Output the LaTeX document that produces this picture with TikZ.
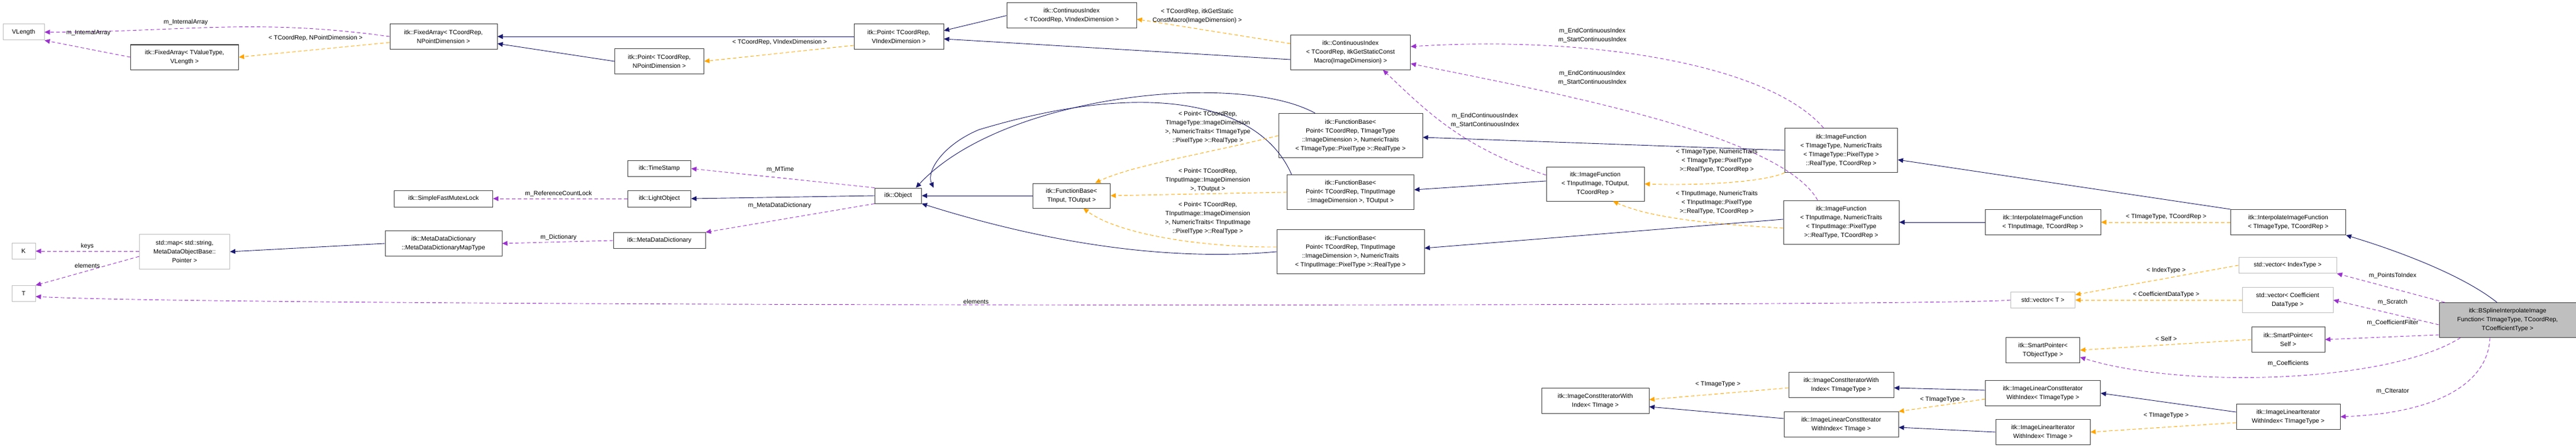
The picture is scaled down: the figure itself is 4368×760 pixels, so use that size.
\documentclass[tikz,border=0pt]{standalone}
\usepackage{fontspec}
\setmainfont{Liberation Sans}
\usetikzlibrary{arrows.meta}
\definecolor{inh}{HTML}{191970}
\definecolor{use}{HTML}{9A32CD}
\definecolor{tpl}{HTML}{FFA500}
\begin{document}
\begin{tikzpicture}[x=1pt,y=1pt,
  box/.style={draw=black!75,line width=1pt,fill=white,align=center,inner sep=2pt,font=\fontsize{10.5}{15}\selectfont},
  ext/.style={box,draw=black!25},
  lbl/.style={align=center,inner sep=1pt,font=\fontsize{10.5}{15}\selectfont},
  tip/.style={-{Triangle[length=9pt,width=8pt]}},
  ih/.style={tip,draw=inh,line width=0.9pt},
  us/.style={tip,draw=use,dashed,dash pattern=on 6pt off 4pt,line width=0.9pt},
  tp/.style={tip,draw=tpl,dashed,dash pattern=on 6pt off 4pt,line width=0.9pt}]
\useasboundingbox (0,0) rectangle (4368,-760);
\newcommand\bx[7][box]{\node[#1,minimum width=#5,minimum height=#6] (#2) at (#3,-#4) {#7};}
% nodes
\bx[ext]{vl}{40}{54.5}{70}{27}{VLength}
\bx{fatv}{313}{97}{183}{42}{itk::FixedArray< TValueType,\\ VLength >}
\bx{facn}{752}{62}{182}{43}{itk::FixedArray< TCoordRep,\\ NPointDimension >}
\bx{ptn}{1118}{104}{151}{43}{itk::Point< TCoordRep,\\ NPointDimension >}
\bx{ptv}{1524}{62}{152}{43}{itk::Point< TCoordRep,\\ VIndexDimension >}
\bx{civ}{1817}{26.5}{220}{43}{itk::ContinuousIndex\\ < TCoordRep, VIndexDimension >}
\bx{cii}{2290}{89}{203}{58}{itk::ContinuousIndex\\ < TCoordRep, itkGetStaticConst\\ Macro(ImageDimension) >}
\bx{ts}{1118}{286}{107}{27}{itk::TimeStamp}
\bx{lo}{1118}{337}{107}{28}{itk::LightObject}
\bx{mx}{752}{337}{167}{28}{itk::SimpleFastMutexLock}
\bx{obj}{1523}{332}{79}{26}{itk::Object}
\bx[ext]{k}{40}{426}{40}{27}{K}
\bx[ext]{t}{40}{498}{40}{27}{T}
\bx[ext]{map}{313}{427}{153}{59}{std::map< std::string,\\ MetaDataObjectBase::\\ Pointer >}
\bx{mt}{752}{413}{198}{43}{itk::MetaDataDictionary\\ ::MetaDataDictionaryMapType}
\bx{md}{1118}{408}{156}{27}{itk::MetaDataDictionary}
\bx{fbtt}{1817}{332}{131}{42}{itk::FunctionBase<\\ TInput, TOutput >}
\bx{fb1}{2290}{230}{244}{75}{itk::FunctionBase<\\ Point< TCoordRep, TImageType\\ ::ImageDimension >, NumericTraits\\ < TImageType::PixelType >::RealType >}
\bx{fb2}{2290}{326}{215}{59}{itk::FunctionBase<\\ Point< TCoordRep, TInputImage\\ ::ImageDimension >, TOutput >}
\bx{fb3}{2290}{427}{250}{75}{itk::FunctionBase<\\ Point< TCoordRep, TInputImage\\ ::ImageDimension >, NumericTraits\\ < TInputImage::PixelType >::RealType >}
\bx{ifto}{2705}{312}{166}{58}{itk::ImageFunction\\ < TInputImage, TOutput,\\ TCoordRep >}
\bx{ifti}{3122}{255}{191}{75}{itk::ImageFunction\\ < TImageType, NumericTraits\\ < TImageType::PixelType >\\ ::RealType, TCoordRep >}
\bx{ifin}{3122}{377}{196}{74}{itk::ImageFunction\\ < TInputImage, NumericTraits\\ < TInputImage::PixelType\\ >::RealType, TCoordRep >}
\bx{ipin}{3464}{377}{196}{43}{itk::InterpolateImageFunction\\ < TInputImage, TCoordRep >}
\bx{ipti}{3880}{377}{195}{43}{itk::InterpolateImageFunction\\ < TImageType, TCoordRep >}
\bx[ext]{vi}{3879}{450}{166}{27}{std::vector< IndexType >}
\bx[ext]{vc}{3879}{509}{154}{43}{std::vector< Coefficient\\ DataType >}
\bx[ext]{vt}{3464}{509}{109}{27}{std::vector< T >}
\bx{sps}{3880}{576}{124}{43}{itk::SmartPointer<\\ Self >}
\bx{spo}{3464}{594}{125}{43}{itk::SmartPointer<\\ TObjectType >}
\bx[box,fill=black!25]{bs}{4252}{543}{232}{59}{itk::BSplineInterpolateImage\\ Function< TImageType, TCoordRep,\\ TCoefficientType >}
\bx{lcti}{3464}{667}{195}{43}{itk::ImageLinearConstIterator\\ WithIndex< TImageType >}
\bx{lti}{3880}{707}{176}{43}{itk::ImageLinearIterator\\ WithIndex< TImageType >}
\bx{lt}{3464}{733}{160}{43}{itk::ImageLinearIterator\\ WithIndex< TImage >}
\bx{ci}{2705}{680}{182}{43}{itk::ImageConstIteratorWith\\ Index< TImage >}
\bx{cti}{3122}{653}{178}{43}{itk::ImageConstIteratorWith\\ Index< TImageType >}
\bx{lc}{3122}{720}{194}{43}{itk::ImageLinearConstIterator\\ WithIndex< TImage >}
% edges
\draw[us] (facn.west) to[out=172,in=0] (vl.east);
\node[lbl] (l1) at (315,-38) {m\_InternalArray};
\draw[us] (fatv.west) -- (vl.south east);
\node[lbl] (l2) at (150,-56) {m\_InternalArray};
\draw[tp] ([yshift=-10]facn.west) -- (fatv.east);
\node[lbl] (l3) at (535,-65) {< TCoordRep, NPointDimension >};
\draw[ih] (ptn.west) -- ([yshift=-12]facn.east);
\draw[ih] (ptv.west) -- (facn.east);
\draw[tp] ([yshift=-15]ptv.west) -- (ptn.east);
\node[lbl] (l4) at (1322,-72) {< TCoordRep, VIndexDimension >};
\draw[ih] (civ.west) -- ([yshift=10]ptv.east);
\draw[ih] ([yshift=-12]cii.west) -- ([yshift=-4]ptv.east);
\draw[tp] ([yshift=15]cii.west) -- ([yshift=-6]civ.east);
\node[lbl] (l5) at (2030,-27) {< TCoordRep, itkGetStatic\\ConstMacro(ImageDimension) >};
\draw[us] ([xshift=-30]ifti.north) .. controls (3000,-110) and (2700,-60) .. ([yshift=10]cii.east);
\node[lbl] (l6) at (2700,-60) {m\_EndContinuousIndex\\m\_StartContinuousIndex};
\draw[us] ([xshift=-40]ifin.north) .. controls (3020,-230) and (2650,-160) .. ([yshift=-19]cii.east);
\node[lbl] (l7) at (2700,-132) {m\_EndContinuousIndex\\m\_StartContinuousIndex};
\draw[us] ([yshift=15]ifto.west) .. controls (2480,-250) and (2420,-190) .. ([xshift=55]cii.south);
\node[lbl] (l8) at (2518,-204) {m\_EndContinuousIndex\\m\_StartContinuousIndex};
\draw[ih] ([xshift=-60]fb1.north) .. controls (2100,-120) and (1700,-160) .. ([xshift=30]obj.north);
\draw[ih] ([xshift=-100]fb2.north) .. controls (2140,-180) and (1960,-130) .. (1660,-220) .. controls (1600,-245) and (1570,-290) .. ([xshift=20]obj.north east);
\draw[ih] (fbtt.west) -- (obj.east);
\draw[ih] (fb3.west) .. controls (2000,-442) and (1800,-420) .. (obj.south east);
\draw[tp] (fb1.west) .. controls (2050,-260) and (1920,-280) .. ([xshift=40]fbtt.north);
\node[lbl] (l9) at (2048,-216) {< Point< TCoordRep,\\TImageType::ImageDimension\\>, NumericTraits< TImageType\\::PixelType >::RealType >};
\draw[tp] (fb2.west) -- (fbtt.east);
\node[lbl] (l10) at (2048,-306) {< Point< TCoordRep,\\TInputImage::ImageDimension\\>, TOutput >};
\draw[tp] ([yshift=8]fb3.west) .. controls (2050,-420) and (1900,-400) .. ([xshift=20]fbtt.south);
\node[lbl] (l11) at (2048,-370) {< Point< TCoordRep,\\TInputImage::ImageDimension\\>, NumericTraits< TInputImage\\::PixelType >::RealType >};
\draw[us] (obj.north west) -- (ts.east);
\node[lbl] (l12) at (1323,-288) {m\_MTime};
\draw[ih] (obj.west) -- (lo.east);
\draw[us] (lo.west) -- (mx.east);
\node[lbl] (l13) at (947,-329) {m\_ReferenceCountLock};
\draw[us] (obj.south west) -- (md.north east);
\node[lbl] (l14) at (1322,-349) {m\_MetaDataDictionary};
\draw[us] (md.west) -- (mt.east);
\node[lbl] (l15) at (947,-403) {m\_Dictionary};
\draw[ih] (mt.west) -- (map.east);
\draw[us] (map.west|-k) -- (k.east);
\node[lbl] (l16) at (148,-418) {keys};
\draw[us] ([yshift=-8]map.west) -- (t.north east);
\node[lbl] (l17) at (148,-451) {elements};
\draw[us] (vt.west) .. controls (3300,-521) and (400,-521) .. ([yshift=-5]t.east);
\node[lbl] (l18) at (1655,-512) {elements};
\draw[ih] (ifti.west) -- ([yshift=-3]fb1.east);
\draw[tp] (ifti.south west) .. controls (2990,-310) and (2870,-315) .. (ifto.east);
\node[lbl] (l19) at (2911,-273) {< TImageType, NumericTraits\\< TImageType::PixelType\\>::RealType, TCoordRep >};
\draw[ih] ([yshift=5]ifin.west) -- ([yshift=6]fb3.east);
\draw[tp] ([yshift=-10]ifin.west) .. controls (2900,-380) and (2800,-370) .. ([xshift=30]ifto.south);
\node[lbl] (l20) at (2911,-344) {< TInputImage, NumericTraits\\< TInputImage::PixelType\\>::RealType, TCoordRep >};
\draw[ih] ([yshift=5]ifto.west) -- ([yshift=4]fb2.east);
\draw[ih] (ipin.west) -- (ifin.east);
\draw[ih] (ipti.north west) -- ([yshift=-16]ifti.east);
\draw[tp] (ipti.west) -- (ipin.east);
\node[lbl] (l21) at (3673,-368) {< TImageType, TCoordRep >};
\draw[ih] ([xshift=-18]bs.north) .. controls (4180,-470) and (4080,-430) .. (ipti.south east);
\draw[tp] (vi.west) -- ([yshift=-5]vt.north east);
\node[lbl] (l22) at (3673,-459) {< IndexType >};
\draw[tp] (vc.west) -- (vt.east);
\node[lbl] (l23) at (3673,-500) {< CoefficientDataType >};
\draw[us] ([xshift=10]bs.north west) -- (vi.south east);
\node[lbl] (l24) at (4057,-468) {m\_PointsToIndex};
\draw[us] ([yshift=-8]bs.west) -- (vc.east);
\node[lbl] (l25) at (4057,-513) {m\_Scratch};
\draw[us] ([yshift=-25]bs.west) -- (sps.east);
\node[lbl] (l26) at (4057,-548) {m\_CoefficientFilter};
\draw[tp] (sps.west) -- (spo.east);
\node[lbl] (l27) at (3673,-575) {< Self >};
\draw[us] ([xshift=-80]bs.south) .. controls (4050,-650) and (3700,-660) .. ([yshift=-12]spo.east);
\node[lbl] (l28) at (3880,-617) {m\_Coefficients};
\draw[us] ([xshift=-30]bs.south) .. controls (4220,-640) and (4150,-700) .. (lti.east);
\node[lbl] (l29) at (4057,-664) {m\_CIterator};
\draw[ih] ([yshift=8]lti.west) -- (lcti.east);
\draw[tp] ([yshift=-10]lti.west) -- (lt.east);
\node[lbl] (l30) at (3673,-705) {< TImageType >};
\draw[tp] ([yshift=-10]lcti.west) -- (lc.north east);
\node[lbl] (l31) at (3294,-678) {< TImageType >};
\draw[ih] ([yshift=5]lcti.west) -- ([yshift=-5]cti.east);
\draw[ih] (lt.west) -- ([yshift=-5]lc.east);
\draw[tp] ([yshift=-5]cti.west) -- ([yshift=2]ci.east);
\node[lbl] (l32) at (2913,-652) {< TImageType >};
\draw[ih] ([yshift=10]lc.west) -- ([yshift=-10]ci.east);
\end{tikzpicture}
\end{document}
